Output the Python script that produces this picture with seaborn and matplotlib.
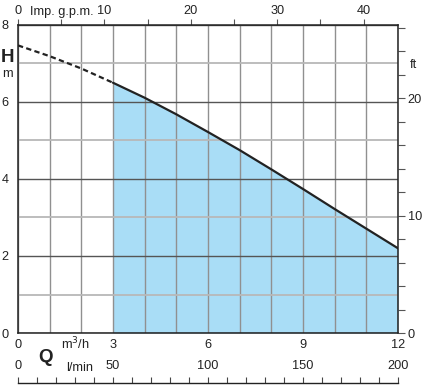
import numpy as np
import pandas as pd
import matplotlib
matplotlib.use('Agg')
import matplotlib.pyplot as plt
from matplotlib.ticker import MultipleLocator
import seaborn as sns

# pump curve (Q in m3/h, H in m)
q_dash = [0, 1, 2, 3]
h_dash = [7.47, 7.19, 6.87, 6.5]
q_solid = [3, 4, 5, 6, 7, 8, 9, 10, 11, 12]
h_solid = [6.5, 6.11, 5.68, 5.22, 4.75, 4.25, 3.74, 3.22, 2.71, 2.2]

q_ticks = [0, 3, 6, 9, 12]
h_ticks = [0, 2, 4, 6, 8]
gpm_ticks = [0, 10, 20, 30, 40]
ft_ticks = [0, 10, 20]
lmin_ticks = [0, 50, 100, 150, 200]

sns.set_style('white')
plt.rcParams['font.family'] = ['Liberation Sans', 'DejaVu Sans']
fs = 9.2
dark = '#222222'

fig = plt.figure(figsize=(4.48, 3.85), dpi=100)
ax = fig.add_axes([18 / 448, 52 / 385, 380 / 448, 308 / 385])

ax.fill_between(q_solid, 0, h_solid, color='#a9ddf6', lw=0, zorder=1)
dash_df = pd.DataFrame({'Q': q_dash, 'H': h_dash})
solid_df = pd.DataFrame({'Q': q_solid, 'H': h_solid})
sns.lineplot(data=dash_df, x='Q', y='H', ax=ax, color=dark, lw=1.6, zorder=4)
ax.lines[-1].set_dashes([2.4, 1.5])
sns.lineplot(data=solid_df, x='Q', y='H', ax=ax, color=dark, lw=1.6, zorder=4)

ax.set_xlim(0, 12)
ax.set_ylim(0, 8)
ax.set_xlabel('')
ax.set_ylabel('')
ax.set_xticks(q_ticks)
ax.set_yticks(h_ticks)
ax.xaxis.set_minor_locator(MultipleLocator(1))
ax.yaxis.set_minor_locator(MultipleLocator(1))
ax.set_axisbelow(False)
ax.grid(True, which='major', axis='x', color='#909090', lw=1.0, zorder=2)
ax.grid(True, which='minor', axis='x', color='#909090', lw=1.0, zorder=2)
ax.grid(True, which='major', axis='y', color='#555555', lw=1.0, zorder=2)
ax.grid(True, which='minor', axis='y', color='#b8b8b8', lw=1.3, zorder=2)
ax.tick_params(which='both', length=0, labelsize=fs, colors=dark)
ax.tick_params(axis='x', pad=4)
ax.tick_params(axis='y', pad=7)
for s in ax.spines.values():
    s.set_color(dark)
    s.set_linewidth(1.1)
    s.set_zorder(5)

# top axis: Imp. g.p.m.
gpm = ax.secondary_xaxis('top', functions=(lambda q: q * 1000 / 4.54609 / 60,
                                           lambda g: g * 4.54609 * 60 / 1000))
gpm.set_xticks(gpm_ticks)
gpm.xaxis.set_minor_locator(MultipleLocator(5))
gpm.tick_params(which='both', direction='out', length=4, width=0.8, color='#555555',
                labelsize=fs, labelcolor=dark, pad=2)
gpm.spines['top'].set_visible(False)

# right axis: ft
ft = ax.secondary_yaxis('right', functions=(lambda h: h / 0.3048, lambda f: f * 0.3048))
ft.set_yticks(ft_ticks)
ft.yaxis.set_minor_locator(MultipleLocator(2))
ft.tick_params(which='both', direction='out', length=5, width=0.8, color='#555555',
               labelsize=fs, labelcolor=dark, pad=2)
ft.spines['right'].set_visible(False)

# bottom l/min scale
lmin = ax.secondary_xaxis(-50 / 308, functions=(lambda q: q * 1000 / 60, lambda l: l * 60 / 1000))
lmin.set_xticks(lmin_ticks)
lmin.xaxis.set_minor_locator(MultipleLocator(10))
lmin.tick_params(which='both', direction='in', length=4, width=0.8, color='#444444',
                 labelsize=fs, labelcolor=dark, bottom=True, top=False,
                 labelbottom=False, labeltop=True, pad=8)
lmin.spines['bottom'].set_color(dark)
lmin.spines['bottom'].set_linewidth(1.0)
lmin.spines['top'].set_visible(False)

# unit labels
fig.text(62 / 448, 1 - 12 / 385, 'Imp. g.p.m.', fontsize=fs, color=dark, ha='center', va='center')
fig.text(413 / 448, 1 - 65 / 385, 'ft', fontsize=fs, color=dark, ha='center', va='center')
fig.text(8 / 448, 1 - 57 / 385, 'H', fontsize=13.5, fontweight='bold', color=dark, ha='center', va='center')
fig.text(7 / 448, 1 - 74 / 385, 'm', fontsize=fs, color=dark, ha='center', va='center')
fig.text(75 / 448, 1 - 344 / 385, 'm$^3$/h', fontsize=fs, color=dark, ha='center', va='center')
fig.text(45 / 448, 1 - 357 / 385, 'Q', fontsize=13.5, fontweight='bold', color=dark, ha='center', va='center')
fig.text(80 / 448, 1 - 368 / 385, 'l/min', fontsize=fs, color=dark, ha='center', va='center')

fig.savefig('out.png', dpi=100)
